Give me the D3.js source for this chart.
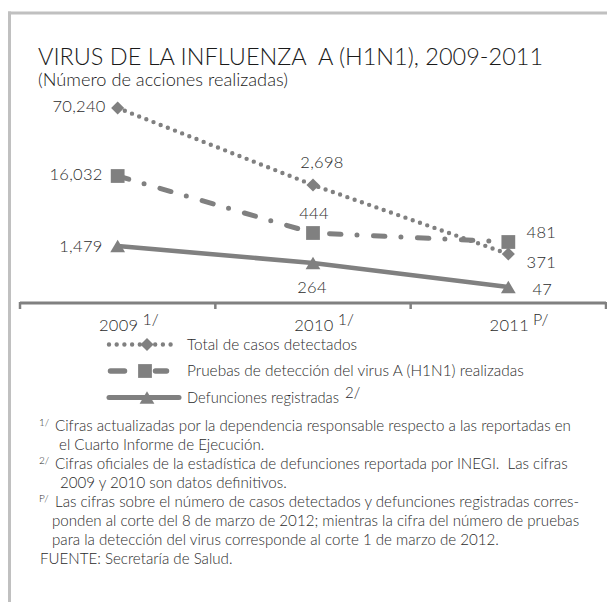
<!DOCTYPE html>
<html>
<head>
<meta charset="utf-8">
<script src="https://cdn.jsdelivr.net/npm/d3@7/dist/d3.min.js"></script>
<style>
  html, body { margin: 0; padding: 0; background: #ffffff; }
  svg { display: block; }
  text { white-space: pre; }
</style>
</head>
<body>
<svg id="chart" width="607" height="602"></svg>
<script>
// ---------------- DATA ----------------
const titleText = "VIRUS DE LA INFLUENZA  A (H1N1), 2009-2011";
const subtitleText = "(Número de acciones realizadas)";
const categories = ["2009", "2010", "2011"];
const categoryNotes = ["1/", "1/", "P/"];
const seriesNames = [
  "Total de casos detectados",
  "Pruebas de detección del virus A (H1N1) realizadas",
  "Defunciones registradas"
];
const seriesNotes = ["", "", "2/"];
// values shown as data labels
const totalCasos = [70240, 2698, 371];
const pruebas = [16032, 444, 481];
const defunciones = [1479, 264, 47];
// heights of each point on the chart's unlabelled vertical axis (0-100)
const totalCasosPlot = [97.5, 59, 24.5];
const pruebasPlot = [63.5, 35, 30.5];
const defuncionesPlot = [28.5, 20, 8];
const footnotes = [
  { note: "1/", text: "Cifras actualizadas por la dependencia responsable respecto a las reportadas en" },
  { note: "",   text: "el Cuarto Informe de Ejecución." },
  { note: "2/", text: "Cifras oficiales de la estadística de defunciones reportada por INEGI.  Las cifras" },
  { note: "",   text: "2009 y 2010 son datos definitivos." },
  { note: "P/", text: "Las cifras sobre el número de casos detectados y defunciones registradas corres-" },
  { note: "",   text: "ponden al corte del 8 de marzo de 2012; mientras la cifra del número de pruebas" },
  { note: "",   text: "para la detección del virus corresponde al corte 1 de marzo de 2012." },
  { note: "",   text: "FUENTE: Secretaría de Salud." }
];

// ---------------- LAYOUT / STYLE ----------------
const W = 607, H = 602;
const GRAY = "#808080";
const TEXT = "#2b2b2b";
const HUMAN = "Lato, 'Open Sans', sans-serif";
const NUM = "Lato, 'DejaVu Sans', sans-serif";

const svg = d3.select("#chart");
svg.append("rect").attr("width", W).attr("height", H).attr("fill", "#fff");

// frame (top and left edges visible)
svg.append("line").attr("x1", 8).attr("x2", W).attr("y1", 13).attr("y2", 13)
  .attr("stroke", "#c0c0c0").attr("stroke-width", 3);
svg.append("line").attr("x1", 9.5).attr("x2", 9.5).attr("y1", 11.5).attr("y2", H)
  .attr("stroke", "#c0c0c0").attr("stroke-width", 3);

function fitText(sel, targetWidth) {
  const w = sel.node().getComputedTextLength();
  const fs = parseFloat(sel.attr("font-size"));
  sel.attr("font-size", (fs * targetWidth / w).toFixed(2));
  return fs * targetWidth / w;
}

// title
const title = svg.append("text").attr("x", 38).attr("y", 65)
  .attr("font-family", HUMAN).attr("font-size", 22).attr("font-weight", 300)
  .attr("fill", "#1a1a1a").text(titleText);
fitText(title, 505);
const sub = svg.append("text").attr("x", 38).attr("y", 86)
  .attr("font-family", HUMAN).attr("font-size", 15).attr("font-weight", 300)
  .attr("fill", "#1a1a1a").text(subtitleText);
fitText(sub, 250);

// scales
const x = d3.scaleBand().domain(categories).range([20, 606]);
const y = d3.scaleLinear().domain([0, 100]).range([303, 103]);
const cx = c => x(c) + x.bandwidth() / 2;

// axis
const axisY = y(0);
const axisG = svg.append("g").attr("transform", `translate(0,${axisY})`);
axisG.append("line").attr("x1", x.range()[0]).attr("x2", x.range()[1])
  .attr("stroke", GRAY).attr("stroke-width", 3);
const bounds = categories.map(c => x(c)).concat([x.range()[1]]);
axisG.selectAll("line.tick").data(bounds).join("line").attr("class", "tick")
  .attr("x1", d => d).attr("x2", d => d).attr("y1", -1).attr("y2", 6)
  .attr("stroke", GRAY).attr("stroke-width", 2.5);

const numText = sel => sel.attr("font-family", NUM).attr("font-weight", 300)
  .attr("font-size", 16.5).attr("letter-spacing", 0.3).attr("fill", TEXT);

// category labels
categories.forEach((c, i) => {
  const t = svg.append("text").attr("x", cx(c) + 1).attr("y", 331)
    .attr("text-anchor", "middle").call(numText).text(c);
  const bb = t.node().getBBox();
  svg.append("text").attr("x", bb.x + bb.width + 4).attr("y", 325)
    .attr("font-family", HUMAN).attr("font-weight", 300).attr("font-size", 16).attr("fill", TEXT)
    .text(categoryNotes[i]);
});

// marker shapes
const diamondPath = d3.symbol().type(d3.symbolSquare).size(86)();
const squarePath = d3.symbol().type(d3.symbolSquare).size(190)();
const trianglePath = "M0,-6.3L7.4,6.3L-7.4,6.3Z";

const series = [
  { name: seriesNames[0], note: seriesNotes[0], values: totalCasos, plot: totalCasosPlot,
    dash: "0 7.7", width: 4.4, marker: diamondPath, rot: 45,
    labels: [{dx: -12, dy: -2, a: "end"}, {dx: 9, dy: -23, a: "middle"}, {dx: 33, dy: 8, a: "middle"}] },
  { name: seriesNames[1], note: seriesNotes[1], values: pruebas, plot: pruebasPlot,
    dash: "11.5 16 0 16.5", width: 5, marker: squarePath, rot: 0,
    labels: [{dx: -15, dy: -2, a: "end"}, {dx: 1, dy: -20, a: "middle"}, {dx: 33, dy: -10, a: "middle"}] },
  { name: seriesNames[2], note: seriesNotes[2], values: defunciones, plot: defuncionesPlot,
    dash: null, width: 4.6, marker: trianglePath, rot: 0,
    labels: [{dx: -15, dy: 0, a: "end"}, {dx: -1, dy: 24, a: "middle"}, {dx: 34, dy: 2, a: "middle"}] }
];

const line = d3.line().x((d, i) => cx(categories[i])).y(d => y(d));
const fmt = d3.format(",");

series.forEach(s => {
  const p = svg.append("path").attr("d", line(s.plot)).attr("fill", "none")
    .attr("stroke", GRAY).attr("stroke-width", s.width)
    .attr("stroke-linecap", "round").attr("stroke-linejoin", "round");
  if (s.dash) p.attr("stroke-dasharray", s.dash);
  svg.append("g").selectAll("path").data(s.plot).join("path")
    .attr("d", s.marker).attr("fill", GRAY)
    .attr("transform", (d, i) => `translate(${cx(categories[i])},${y(d)}) rotate(${s.rot})`);
  svg.append("g").selectAll("text").data(s.values).join("text")
    .attr("x", (d, i) => cx(categories[i]) + s.labels[i].dx)
    .attr("y", (d, i) => y(s.plot[i]) + s.labels[i].dy)
    .attr("dy", "0.36em").attr("text-anchor", (d, i) => s.labels[i].a)
    .call(numText)
    .text(d => fmt(d));
});

// legend
const legendRows = [344.5, 371, 397.5];
const legendTargets = [170, 337, 152];
const lg = svg.append("g");
series.forEach((s, i) => {
  const ly = legendRows[i];
  const lp = lg.append("path").attr("fill", "none").attr("stroke", GRAY)
    .attr("stroke-linecap", "round");
  if (i === 0) {
    lp.attr("d", `M109,${ly}H177`).attr("stroke-width", 4.4).attr("stroke-dasharray", "0 7.7");
  } else if (i === 1) {
    lp.attr("d", `M110.5,${ly}H167`).attr("stroke-width", 5.5).attr("stroke-dasharray", "14 31 11 100");
  } else {
    lp.attr("d", `M109,${ly}H179`).attr("stroke-width", 5);
  }
  lg.append("path").attr("d", s.marker).attr("fill", GRAY)
    .attr("transform", `translate(${i === 1 ? 145 : 147},${ly}) rotate(${s.rot})`);
  const t = lg.append("text").attr("x", 187).attr("y", ly + 5)
    .attr("font-family", HUMAN).attr("font-weight", 300).attr("font-size", 14).attr("fill", TEXT).text(s.name);
  fitText(t, legendTargets[i]);
  if (s.note) {
    const bb = t.node().getBBox();
    lg.append("text").attr("x", bb.x + bb.width + 6).attr("y", ly + 0)
      .attr("font-family", HUMAN).attr("font-weight", 300).attr("font-size", 15).attr("fill", TEXT).text(s.note);
  }
});

// footnotes
const fnX = [55, 59, 55, 60, 55, 52, 52, 40];
const fg = svg.append("g");
const first = fg.append("text").attr("x", fnX[0]).attr("y", 431)
  .attr("font-family", HUMAN).attr("font-weight", 300).attr("font-size", 13).attr("fill", TEXT).text(footnotes[0].text);
const fnSize = fitText(first, 516);
footnotes.forEach((f, i) => {
  const by = 431 + i * 19;
  if (i > 0) {
    fg.append("text").attr("x", fnX[i]).attr("y", by)
      .attr("font-family", HUMAN).attr("font-weight", 300).attr("font-size", fnSize.toFixed(2)).attr("fill", TEXT).text(f.text);
  }
  if (f.note) {
    fg.append("text").attr("x", 39).attr("y", by - 5)
      .attr("font-family", HUMAN).attr("font-weight", 300).attr("font-size", 10).attr("fill", TEXT).text(f.note);
  }
});
</script>
</body>
</html>
